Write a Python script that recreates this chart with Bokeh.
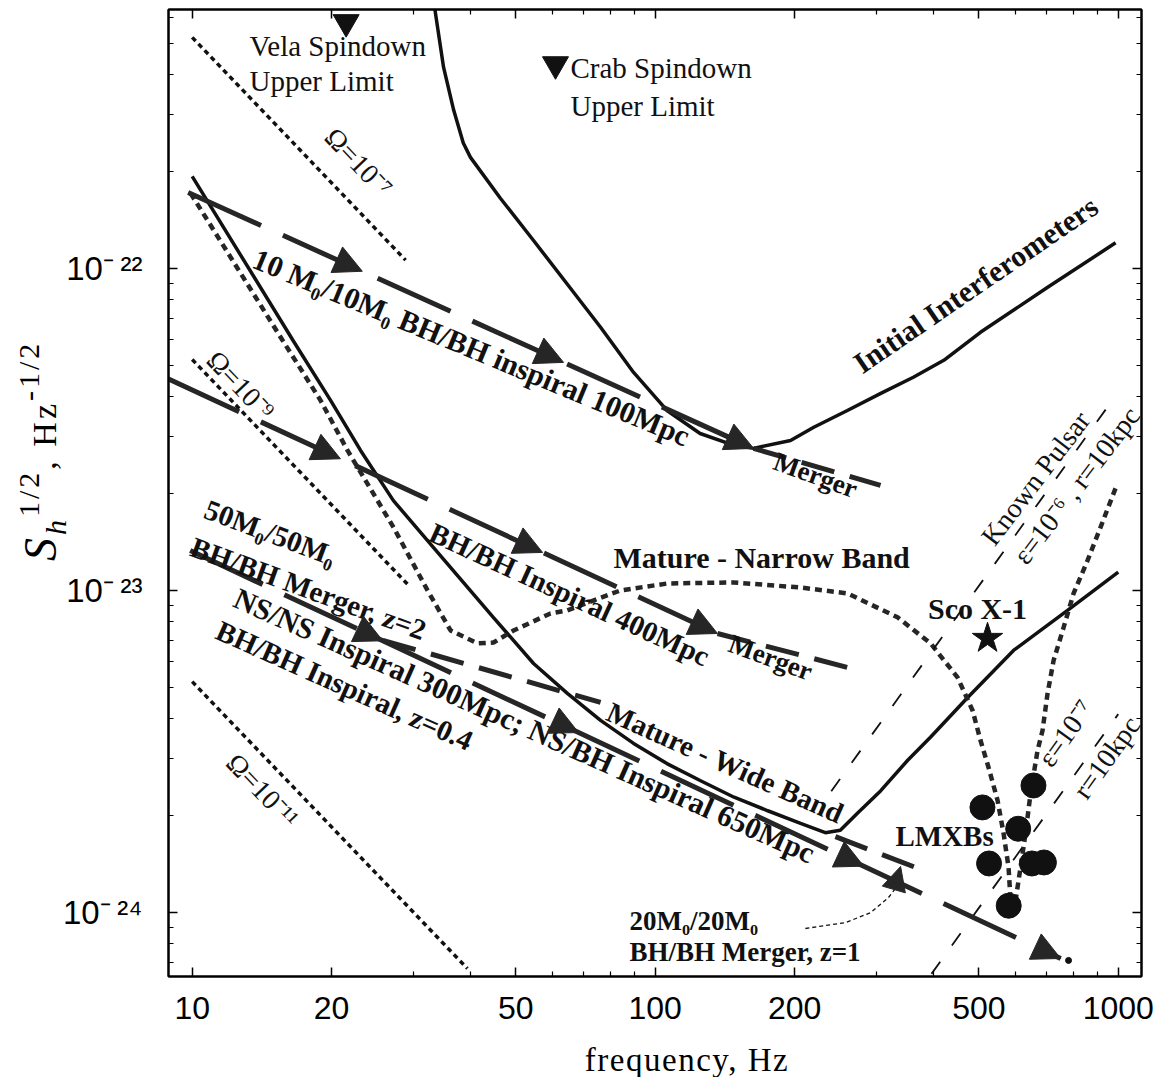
import numpy as np
from bokeh.plotting import figure
from bokeh.layouts import column
from bokeh.models import (FixedTicker, LogAxis, Arrow, NormalHead, Div,
                          CustomJSTickFormatter, NumeralTickFormatter)
from bokeh.core.properties import value
from bokeh.embed import file_html
from bokeh.resources import INLINE

E24 = 1e-24  # strain values below are in units of 1e-24 Hz^-1/2

# ---------------- data ----------------
# Advanced interferometer noise curve (solid)
adv_f = [10, 16.5, 19.9, 23.1, 27.2, 32.2, 44.7, 54.6, 64.6, 76.2, 89.8, 106, 125, 148,
         175, 206, 233, 251, 273, 307, 351, 393, 473, 594, 777, 1000]
adv_h = [193, 59.8, 38.9, 27.2, 19.0, 14.3, 8.25, 5.93, 4.79, 3.95, 3.35, 2.90, 2.57, 2.28,
         2.07, 1.89, 1.77, 1.80, 2.03, 2.39, 2.97, 3.50, 4.65, 6.51, 8.67, 11.4]

# Initial interferometers (solid)
init_f = [33.2, 34.9, 36.7, 38.5, 39.9, 46.3, 54.6, 64.6, 76.2, 89.8, 106, 125, 148, 163,
          196, 220, 260, 307, 361, 420, 504, 704, 987]
init_h = [680, 421, 310, 245, 221, 165, 122, 89.2, 65.6, 47.5, 36.2, 30.7, 28.2, 27.6,
          29.2, 32.1, 36.2, 40.9, 45.9, 51.8, 63.3, 87.3, 120]

# Mature - narrow band (dotted)
nb_f = [9.92, 15.67, 18.93, 21.65, 27.22, 32.23, 36.14, 41.33, 44.75, 49.43, 59.4, 64.6,
        84.1, 106.3, 147.6, 206, 260.2, 333.7, 393.2, 449.7, 484.6, 504.2, 524.7, 548.7,
        565.4, 579.6, 585.4]
nb_h = [171, 59.8, 38.9, 27.2, 15.69, 10.0, 7.51, 6.85, 6.89, 7.51, 8.48, 8.67, 10.0,
        10.51, 10.59, 10.21, 9.79, 8.25, 6.85, 5.37, 4.24, 3.42, 2.82, 2.23, 1.76, 1.38, 1.09]

# second narrow-band (LMXB) dotted curve
lm_f = [986.5, 915.5, 858.5, 800.9, 762.0, 725.1, 703.6, 686.3, 669.4, 646.5, 630.6, 615.1, 600.1]
lm_h = [20.74, 15.69, 12.39, 9.79, 7.675, 6.061, 4.787, 3.675, 3.185, 2.342, 1.759, 1.380, 1.090]

# LMXB sources
lmxb_f = [509, 608, 526, 651, 691, 656, 580]
lmxb_h = [2.12, 1.82, 1.42, 1.42, 1.43, 2.48, 1.05]

# stochastic background lines
om7_f, om7_h = [10, 28.9], [521, 106]
om9_f, om9_h = [10, 29.3], [52.1, 10.39]
om11_f, om11_h = [10, 39.3], [5.21, 0.67]

# known pulsar lines
kp6_f, kp6_h = [240, 977], [2.38, 39.4]
kp7_f, kp7_h = [395, 1000], [0.645, 4.13]

# inspiral tracks (dashed) and their arrow frequencies
a_f, a_h = [9.8, 163.1], [172, 27.6]          # 10/10 BH/BH 100 Mpc
a_post_f, a_post_h = [163.1, 306.6], [27.6, 21.2]
a_arrows = [23.3, 63.4, 163.1]

b_f, b_h = [8.8, 136.3], [45.6, 7.35]          # BH/BH 400 Mpc
b_post_f, b_post_h = [136.3, 274.9], [7.35, 5.65]
b_arrows = [20.9, 57.1, 136.3]

l2_f, l2_h = [9.9, 751], [13.3, 0.72]          # NS/NS 300Mpc ; BH/BH z=0.4 ; 50/50 z=2
l2_arrows = [25.8, 68.3, 282, 751]
l1_post_f, l1_post_h = [25.8, 76.2], [7.0, 4.49]
z04_post_f, z04_post_h = [245, 370], [1.72, 1.37]
end_dot_f, end_dot_h = [781], [0.71]

# pointer from the 20/20 label
ptr_f = [211, 258, 292, 319, 334]
ptr_h = [0.892, 0.931, 1.0, 1.113, 1.213]
ptr_head_f, ptr_head_h = [327.1, 338.8], [1.17, 1.39]

# point sources
vela_f, vela_h = [21.5], [581]
crab_f, crab_h = [60.9], [430]
sco_f, sco_h = [522], [7.1]

x_major = [10, 20, 50, 100, 200, 500, 1000]
x_minor = [30, 40, 60, 70, 80, 90, 300, 400, 600, 700, 800, 900]
y_major = [1e-24, 1e-23, 1e-22]
y_minor = [k * 10.0 ** e for e in (-25, -24, -23, -22) for k in range(2, 10)]


def H(lst):
    return list(np.array(lst, dtype=float) * E24)


# ---------------- figure ----------------
p = figure(x_axis_type="log", y_axis_type="log",
           x_range=(8.888, 1122.6), y_range=(6.33e-25, 6.36e-22),
           frame_width=973, frame_height=967,
           min_border_left=168, min_border_right=17, min_border_top=9, min_border_bottom=60,
           output_backend="svg", toolbar_location=None,
           background_fill_color="white", border_fill_color="white")
p.grid.visible = False
p.outline_line_color = "black"
p.outline_line_width = 2

xt = FixedTicker(ticks=x_major, minor_ticks=x_minor)
yt = FixedTicker(ticks=y_major, minor_ticks=y_minor)


def style_axis(ax):
    ax.axis_line_color = "black"
    ax.axis_line_width = 2
    ax.major_tick_line_color = "black"
    ax.major_tick_line_width = 1.5
    ax.minor_tick_line_color = "black"
    ax.minor_tick_line_width = 1.2
    ax.major_tick_in = 9
    ax.major_tick_out = 0
    ax.minor_tick_in = 5
    ax.minor_tick_out = 0


xa = p.xaxis[0]
xa.ticker = xt
xa.formatter = NumeralTickFormatter(format="0")
style_axis(xa)
xa.major_label_text_font = "Liberation Sans"
xa.major_label_text_font_size = "32px"
xa.major_label_text_color = "black"
xa.major_label_standoff = 20

ya = p.yaxis[0]
ya.ticker = yt
ya.formatter = CustomJSTickFormatter(code="""
const e = Math.round(Math.log10(tick));
const sup = {"0":"\u2070","1":"\u00b9","2":"\u00b2","3":"\u00b3","4":"\u2074",
             "5":"\u2075","6":"\u2076","7":"\u2077","8":"\u2078","9":"\u2079"};
const digits = String(Math.abs(e)).split("").map(c => sup[c]).join("");
return "10" + (e < 0 ? "\u207b\u2009" : "") + digits;
""")
style_axis(ya)
ya.major_label_text_font = "Liberation Sans"
ya.major_label_text_font_size = "33px"
ya.major_label_text_color = "black"
ya.major_label_standoff = 26

blank = "return ''"
top = LogAxis(ticker=xt, formatter=CustomJSTickFormatter(code=blank),
              major_label_text_font_size="0px", major_label_standoff=0)
style_axis(top)
p.add_layout(top, "above")
right = LogAxis(ticker=yt, formatter=CustomJSTickFormatter(code=blank),
                major_label_text_font_size="0px", major_label_standoff=0)
style_axis(right)
p.add_layout(right, "right")

INK = "#111111"
DASH = "#262626"

# solid sensitivity curves
p.line(init_f, H(init_h), line_color=INK, line_width=3.5)
p.line(adv_f, H(adv_h), line_color=INK, line_width=3.5)

# dotted narrow band curves
p.line(nb_f, H(nb_h), line_color=DASH, line_width=4.5, line_dash="7 5")
p.line(lm_f, H(lm_h), line_color=DASH, line_width=4.5, line_dash="7 5")

# stochastic background lines
for fs, hs in ((om7_f, om7_h), (om9_f, om9_h), (om11_f, om11_h)):
    p.line(fs, H(hs), line_color=INK, line_width=3.5, line_dash="5 4")

# known pulsar lines
p.line(kp6_f, H(kp6_h), line_color=INK, line_width=1.8, line_dash="15 20")
p.line(kp7_f, H(kp7_h), line_color=INK, line_width=1.8, line_dash="15 20")

# inspiral tracks
for fs, hs in ((a_f, a_h), (b_f, b_h), (l2_f, l2_h)):
    p.line(fs, H(hs), line_color=DASH, line_width=5, line_dash="80 24")
for fs, hs in ((a_post_f, a_post_h), (b_post_f, b_post_h), (l1_post_f, l1_post_h),
               (z04_post_f, z04_post_h)):
    p.line(fs, H(hs), line_color=DASH, line_width=5, line_dash="34 16")


def on_line(fs, hs, f):
    return 10 ** np.interp(np.log10(f), np.log10(fs), np.log10(np.array(hs, float) * E24))


def add_arrows(fs, hs, tips, size=28):
    for ft in tips:
        fb = ft / 1.06
        p.add_layout(Arrow(end=NormalHead(size=size, fill_color=DASH, line_color=DASH),
                           x_start=fb, y_start=on_line(fs, hs, fb),
                           x_end=ft, y_end=on_line(fs, hs, ft), line_alpha=0))


add_arrows(a_f, a_h, a_arrows)
add_arrows(b_f, b_h, b_arrows)
add_arrows(l2_f, l2_h, l2_arrows)
p.scatter(end_dot_f, H(end_dot_h), marker="circle", size=6, color=INK)

# pointer for 20/20 merger
p.line(ptr_f, H(ptr_h), line_color=INK, line_width=1.3, line_dash="4 3")
p.add_layout(Arrow(end=NormalHead(size=24, fill_color=DASH, line_color=DASH),
                   x_start=ptr_head_f[0], y_start=ptr_head_h[0] * E24,
                   x_end=ptr_head_f[1], y_end=ptr_head_h[1] * E24, line_alpha=0))

# point sources
p.scatter(vela_f, H(vela_h), marker="inverted_triangle", size=26, color=INK)
p.scatter(crab_f, H(crab_h), marker="inverted_triangle", size=26, color=INK)
p.scatter(sco_f, H(sco_h), marker="star", size=32, color=INK)
p.scatter(lmxb_f, H(lmxb_h), marker="circle", size=25, color=INK)


# ---------------- text annotations ----------------
def txt(f, h, s, angle=0.0, bold=True, size="29px", align="center"):
    p.text(x=[f], y=[h * E24], text=[s], angle=angle,
           text_font=value("Liberation Serif"),
           text_font_style="bold" if bold else "normal",
           text_font_size=size, text_align=align, text_baseline="middle",
           text_color="#111111")


txt(13.3, 489, "Vela Spindown", bold=False, size="29px", align="left")
txt(13.3, 381, "Upper Limit", bold=False, size="29px", align="left")
txt(65.6, 418, "Crab Spindown", bold=False, size="29px", align="left")
txt(65.6, 318.5, "Upper Limit", bold=False, size="29px", align="left")

txt(22.87, 213.4, "\u03a9=10\u207b\u2077", angle=-0.81, bold=False, size="28px")
txt(12.72, 43.3, "\u03a9=10\u207b\u2079", angle=-0.81, bold=False, size="28px")
txt(14.19, 2.39, "\u03a9=10\u207b\u00b9\u00b9", angle=-0.81, bold=False, size="28px")

txt(40.1, 56.85, "10 M\u2080/10M\u2080 BH/BH inspiral 100Mpc", angle=-0.393, size="30px")
txt(222, 22.8, "Merger", angle=-0.35, size="27px")
txt(65.3, 9.72, "BH/BH Inspiral 400Mpc", angle=-0.43)
txt(177.5, 6.19, "Merger", angle=-0.35, size="27px")
txt(169.7, 12.66, "Mature - Narrow Band", size="30px")
txt(141.8, 2.92, "Mature - Wide Band", angle=-0.42)
txt(496.7, 8.79, "Sco X-1", size="30px")
txt(421.5, 1.734, "LMXBs", size="29px")
txt(491.8, 89.2, "Initial Interferometers", angle=0.60, size="30px")

txt(662.9, 22.28, "Known Pulsar", angle=0.92, bold=False, size="28px")
txt(812.6, 21.19, "\u03b5=10\u207b\u2076 , r=10kpc", angle=0.92, bold=False, size="28px")
txt(769.6, 3.60, "\u03b5=10\u207b\u2077", angle=0.95, bold=False, size="28px")
txt(943.4, 3.03, "r=10kpc", angle=0.95, bold=False, size="28px")

txt(14.76, 15.14, "50M\u2080/50M\u2080", angle=-0.36)
txt(17.83, 10.14, "BH/BH Merger, z=2", angle=-0.35)
txt(52.2, 3.808, "NS/NS Inspiral 300Mpc; NS/BH Inspiral 650Mpc", angle=-0.42, size="30px")
txt(21.33, 5.07, "BH/BH Inspiral, z=0.4", angle=-0.42)
txt(88.0, 0.9445, "20M\u2080/20M\u2080", size="27px", align="left")
txt(88.0, 0.7566, "BH/BH Merger, z=1", size="27px", align="left")

# axis titles as HTML text over the page (y title: S_h^{1/2}, Hz^{-1/2}, bottom-to-top)
titles_html = (
    '<div style="position:absolute; left:0px; top:0px; transform-origin:0 0; '
    'transform:translate(9px, 556px) rotate(-90deg); white-space:nowrap; line-height:1; '
    "font-family:'Liberation Serif',serif; color:black; letter-spacing:3px;\">"
    '<i style="font-size:46px">S</i>'
    '<i style="font-size:30px; vertical-align:-10px">h</i>'
    '<span style="font-size:30px; vertical-align:17px">1/2</span>'
    '<span style="font-size:34px">, Hz</span>'
    '<span style="font-size:30px; vertical-align:17px">-1/2</span></div>'
    '<div style="position:absolute; left:482px; top:1039px; width:400px; text-align:center; '
    "white-space:nowrap; line-height:1; font-family:'Liberation Serif',serif; "
    'font-size:33px; letter-spacing:1.5px; color:black;">frequency, Hz</div>')
tdiv = Div(text=titles_html, width=1150, height=1070,
           styles={"position": "absolute", "left": "0px", "top": "0px",
                   "overflow": "visible", "z-index": "5", "pointer-events": "none"})

open("out.html", "w").write(file_html(column(p, tdiv), INLINE))
